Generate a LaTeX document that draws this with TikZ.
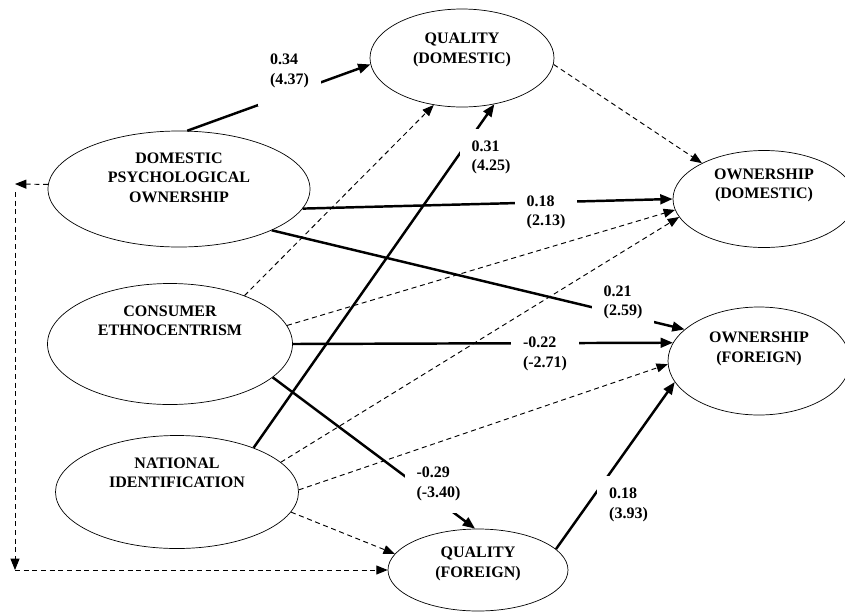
\documentclass[tikz,border=0pt]{standalone}
\usepackage{fontspec}
\setmainfont{Liberation Serif}
\usetikzlibrary{
  shapes,
  arrows.meta,
  positioning
}
\tikzset{%
  latent/.style={ellipse, draw, line width=0.6pt, inner sep=0pt}, % the constructs
  ttl/.style={align=center, font=\fontsize{13.66}{16.6}\selectfont\bfseries},
  coef/.style={fill=white, align=left, inner sep=3.6mm,
    font=\fontsize{13.66}{16.6}\selectfont\bfseries}, % estimate (t-value), hides the line below it
  sig/.style={draw, line width=2.1pt, -{Triangle[length=3.7mm, width=2.9mm]}},
  nsig/.style={draw, line width=0.8pt, dash pattern=on 1.5mm off 1.1mm,
    -{Triangle[length=3.4mm, width=2.7mm]}}
}

\begin{document}
\begin{tikzpicture}[x=0.3mm, y=-0.3mm]
    \useasboundingbox (0,0) rectangle (845,611);
    \clip (0,0) rectangle (845,611);
    % constructs
    \node[latent, minimum width=55.2mm, minimum height=29.4mm,
      label={[ttl, yshift=2.4mm]center:QUALITY\\(DOMESTIC)}] (qd) at (462,58) {};
    \node[latent, minimum width=78.6mm, minimum height=34.8mm,
      label={[ttl, yshift=3.45mm]center:DOMESTIC\\PSYCHOLOGICAL\\OWNERSHIP}] (dpo) at (179,189) {};
    \node[latent, minimum width=73.5mm, minimum height=36.3mm,
      label={[ttl, yshift=6.9mm]center:CONSUMER\\ETHNOCENTRISM}] (ce) at (170,344) {};
    \node[latent, minimum width=72.9mm, minimum height=33.9mm,
      label={[ttl, yshift=5.85mm]center:NATIONAL\\IDENTIFICATION}] (ni) at (177,492) {};
    \node[latent, minimum width=54.6mm, minimum height=29.1mm,
      label={[ttl, yshift=4.05mm]center:OWNERSHIP\\(DOMESTIC)}] (od) at (764,199) {};
    \node[latent, minimum width=54.6mm, minimum height=32.4mm,
      label={[ttl, yshift=3.6mm]center:OWNERSHIP\\(FOREIGN)}] (of) at (759,361) {};
    \node[latent, minimum width=54mm, minimum height=24.6mm,
      label={[ttl, yshift=1.8mm]center:QUALITY\\(FOREIGN)}] (qf) at (478,570) {};

    % significant paths
    \draw (dpo.82) edge[sig] (qd.184);
    \draw (ni.30) edge[sig] (qd.305);
    \draw (dpo.351) edge[sig] (od.west);
    \draw (dpo.336) edge[sig] (of.157);
    \draw (ce.east) edge[sig] (of.168);
    \draw (ce.342) edge[sig] (qf.94);
    \draw (qf.15) edge[sig] (of.194);

    \node[coef, inner ysep=5.4mm] (dpoqd) at (289.5,71) {0.34\\(4.37)};
    \node[coef] (niqd) at (491,157.5) {0.31\\(4.25)};
    \node[coef] (dpood) at (546,212.5) {0.18\\(2.13)};
    \node[coef] (dpoof) at (623,302.5) {0.21\\(2.59)};
    \node[coef] (ceof) at (545,354) {-0.22\\(-2.71)};
    \node[coef] (ceqf) at (438.5,484) {-0.29\\(-3.40)};
    \node[coef] (qfof) at (628.5,505) {0.18\\(3.93)};

    % non significant paths
    \draw (qd.356) edge[nsig] (od.150);
    \draw (ce.33) edge[nsig] (qd.239);
    \draw (ce.9) edge[nsig] (od.187);
    \draw (ni.16) edge[nsig] (od.192);
    \draw (ni.1) edge[nsig] (of.182);
    \draw (ni.350) edge[nsig] (qf.169);

    % correlation round the left side
    \coordinate (tl) at (15,184);
    \coordinate (bl) at (15,570);
    \draw (dpo.178) edge[nsig] (tl);
    \draw (tl) edge[nsig, shorten <=2.4mm] (bl);
    \draw (bl) edge[nsig] (qf.west);
  \end{tikzpicture}
\end{document}
